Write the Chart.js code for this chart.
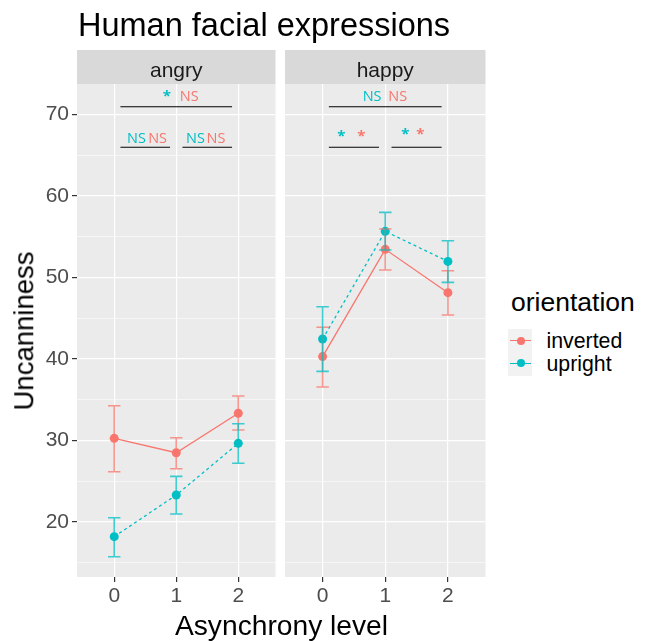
<!DOCTYPE html>
<html><head><meta charset="utf-8">
<script src="https://cdn.jsdelivr.net/npm/chart.js@4"></script>
<style>
body{margin:0;background:#fff;font-family:"Liberation Sans",Arial,sans-serif;}
#wrap{position:relative;width:653px;height:641px;overflow:hidden;background:#fff}
canvas{position:absolute;top:0}
.t{position:absolute;white-space:nowrap;line-height:1;color:#000}
.k{position:absolute}
</style></head><body>
<div id="wrap">
<canvas id="c1" width="280" height="641" style="left:0"></canvas>
<canvas id="c2" width="210" height="641" style="left:280px"></canvas>
<div class="t" style="left:78px;top:9.2px;font-size:32.5px">Human facial expressions</div>
<div class="t" style="left:281.5px;top:611px;font-size:28.2px;transform:translateX(-50%)">Asynchrony level</div>
<div class="t" style="left:24px;top:331px;font-size:27.5px;transform:translate(-50%,-50%) rotate(-90deg)">Uncanniness</div>
<div class="t" style="left:511px;top:289.3px;font-size:26.5px">orientation</div>
<div class="k" style="left:508px;top:329px;width:24px;height:47px;background:#F2F2F2"></div>
<div class="k" style="left:510px;top:340px;width:21px;height:1.4px;background:#F8766D"></div>
<div class="k" style="left:516.7px;top:336.7px;width:8px;height:8px;border-radius:50%;background:#F8766D"></div>
<div class="k" style="left:510px;top:362.6px;width:21px;height:1.4px;background:#00BFC4"></div>
<div class="k" style="left:516.7px;top:359.3px;width:8px;height:8px;border-radius:50%;background:#00BFC4"></div>
<div class="t" style="left:546.5px;top:331.3px;font-size:21.3px">inverted</div>
<div class="t" style="left:546.5px;top:353.7px;font-size:21.3px">upright</div>
</div>
<script>
const categories=[0,1,2];
const xTicks=[0,1,2];
const yTicks=[20,30,40,50,60,70];
const yMinor=[15,25,35,45,55,65];
const facets=['angry','happy'];
const series=['inverted','upright'];

const angryInverted=[30.27,28.5,33.34];
const angryInvertedLo=[26.17,26.54,31.29];
const angryInvertedHi=[34.27,30.34,35.46];
const angryUpright=[18.2,23.31,29.65];
const angryUprightLo=[15.74,20.98,27.2];
const angryUprightHi=[20.53,25.6,32.06];

const happyInverted=[40.3,53.46,48.14];
const happyInvertedLo=[36.56,50.92,45.4];
const happyInvertedHi=[43.89,55.95,50.83];
const happyUpright=[42.45,55.67,51.98];
const happyUprightLo=[38.49,53.37,49.41];
const happyUprightHi=[46.42,58.0,54.52];

const sigLineY=[70.96,65.98,65.98];
const sigLineX0=[0.1,0.1,1.1];
const sigLineX1=[1.9,0.9,1.9];
const angrySigText=['*','NS','NS','NS','NS','NS'];
const angrySigX=[0.85,1.21,0.36,0.70,1.31,1.64];
const angrySigY=[71.65,71.7,66.54,66.54,66.54,66.54];
const angrySigSeries=['upright','inverted','upright','inverted','upright','inverted'];
const happySigText=['NS','NS','*','*','*','*'];
const happySigX=[0.79,1.20,0.30,0.62,1.32,1.56];
const happySigY=[71.7,71.7,66.79,66.79,67.03,67.03];
const happySigSeries=['upright','inverted','upright','inverted','upright','inverted'];

const COLORS={inverted:'#F8766D',upright:'#00BFC4'};
const FAM='"Liberation Sans", Arial, sans-serif';

const panelPlugin={
  id:'panel',
  beforeDraw(chart,args,opts){
    const {ctx,chartArea:a}=chart;
    ctx.save();
    ctx.fillStyle='#EBEBEB';
    ctx.fillRect(a.left,a.top,a.right-a.left,a.bottom-a.top);
    ctx.fillStyle='#D9D9D9';
    ctx.fillRect(a.left,50,a.right-a.left,a.top-50);
    ctx.fillStyle='#1A1A1A';
    ctx.font='21px '+FAM;
    ctx.textAlign='center';
    ctx.textBaseline='alphabetic';
    ctx.fillText(opts.facet,(a.left+a.right)/2,76.7);
    ctx.restore();
  },
  afterDatasetsDraw(chart,args,opts){
    const {ctx,chartArea:a}=chart;
    const xs=chart.scales.x, ys=chart.scales.y;
    ctx.save();
    ctx.beginPath();ctx.rect(a.left,a.top,a.right-a.left,a.bottom-a.top);ctx.clip();
    chart.data.datasets.forEach(ds=>{
      ctx.strokeStyle=ds.borderColor;
      ctx.globalAlpha=0.75;
      ctx.lineWidth=1.6;
      ctx.setLineDash([]);
      categories.forEach((c,i)=>{
        const x=xs.getPixelForValue(c);
        const x0=xs.getPixelForValue(c-0.1), x1=xs.getPixelForValue(c+0.1);
        const yl=ys.getPixelForValue(ds.lo[i]), yh=ys.getPixelForValue(ds.hi[i]);
        ctx.beginPath();
        ctx.moveTo(x,yl);ctx.lineTo(x,yh);
        ctx.moveTo(x0,yl);ctx.lineTo(x1,yl);
        ctx.moveTo(x0,yh);ctx.lineTo(x1,yh);
        ctx.stroke();
      });
    });
    ctx.globalAlpha=1;
    ctx.strokeStyle='#000';
    ctx.lineWidth=1.1;
    sigLineY.forEach((y,i)=>{
      const py=ys.getPixelForValue(y);
      ctx.beginPath();
      ctx.moveTo(xs.getPixelForValue(sigLineX0[i]),py);
      ctx.lineTo(xs.getPixelForValue(sigLineX1[i]),py);
      ctx.stroke();
    });
    ctx.textAlign='center';
    ctx.textBaseline='alphabetic';
    opts.sigText.forEach((t,i)=>{
      ctx.font=(t==='*'?'bold 15px ':'14.5px ')+'"Open Sans", "Liberation Sans", Arial, sans-serif';
      ctx.fillStyle=COLORS[opts.sigSeries[i]];
      ctx.fillText(t,xs.getPixelForValue(opts.sigX[i]),ys.getPixelForValue(opts.sigY[i]));
    });
    ctx.restore();
  }
};

function makeChart(id,facet,inv,invLo,invHi,up,upLo,upHi,sigText,sigX,sigY,sigSeries,showY,padRight){
  const mk=(arr)=>categories.map((c,i)=>({x:c,y:arr[i]}));
  return new Chart(document.getElementById(id),{
    type:'line',
    data:{datasets:[
      {label:series[0],data:mk(inv),lo:invLo,hi:invHi,order:2,
       borderColor:COLORS.inverted,backgroundColor:COLORS.inverted,borderWidth:1.3,
       pointRadius:4.5,pointBorderWidth:0,pointBackgroundColor:COLORS.inverted,tension:0},
      {label:series[1],data:mk(up),lo:upLo,hi:upHi,order:1,
       borderColor:COLORS.upright,backgroundColor:COLORS.upright,borderWidth:1.3,borderDash:[3,3],
       pointRadius:4.5,pointBorderWidth:0,pointBackgroundColor:COLORS.upright,tension:0}
    ]},
    options:{
      responsive:false,animation:false,devicePixelRatio:1,
      layout:{padding:{left:0,right:padRight,top:84,bottom:0}},
      plugins:{legend:{display:false},tooltip:{enabled:false},
        panel:{facet,sigText,sigX,sigY,sigSeries}},
      scales:{
        x:{type:'linear',min:-0.6,max:2.6,
          afterBuildTicks:s=>{s.ticks=xTicks.map(v=>({value:v}));},
          afterFit:s=>{s.height=64;},
          grid:{color:'#FFFFFF',lineWidth:1.2,tickColor:'#333333',tickLength:5,drawTicks:true},
          border:{display:false},
          ticks:{color:'#4D4D4D',font:{size:21,family:FAM},padding:2,maxRotation:0,autoSkip:false}},
        y:{type:'linear',min:13.25,max:73.75,
          afterBuildTicks:s=>{s.ticks=[...yMinor,...yTicks].sort((a,b)=>a-b).map(v=>({value:v}));},
          afterFit:s=>{s.width=showY?77:5;},
          grid:{color:'#FFFFFF',
            lineWidth:c=>yTicks.includes(c.tick.value)?1.2:0.55,
            tickColor:c=>(showY&&yTicks.includes(c.tick.value))?'#333333':'rgba(0,0,0,0)',
            tickLength:5,drawTicks:showY},
          border:{display:false},
          ticks:{display:showY,color:'#4D4D4D',font:{size:21,family:FAM},padding:3,autoSkip:false,
            callback:v=>yTicks.includes(v)?String(v):''}}
      }
    },
    plugins:[panelPlugin]
  });
}

makeChart('c1',facets[0],angryInverted,angryInvertedLo,angryInvertedHi,angryUpright,angryUprightLo,angryUprightHi,
  angrySigText,angrySigX,angrySigY,angrySigSeries,true,2);
makeChart('c2',facets[1],happyInverted,happyInvertedLo,happyInvertedHi,happyUpright,happyUprightLo,happyUprightHi,
  happySigText,happySigX,happySigY,happySigSeries,false,4);
</script>
</body></html>
